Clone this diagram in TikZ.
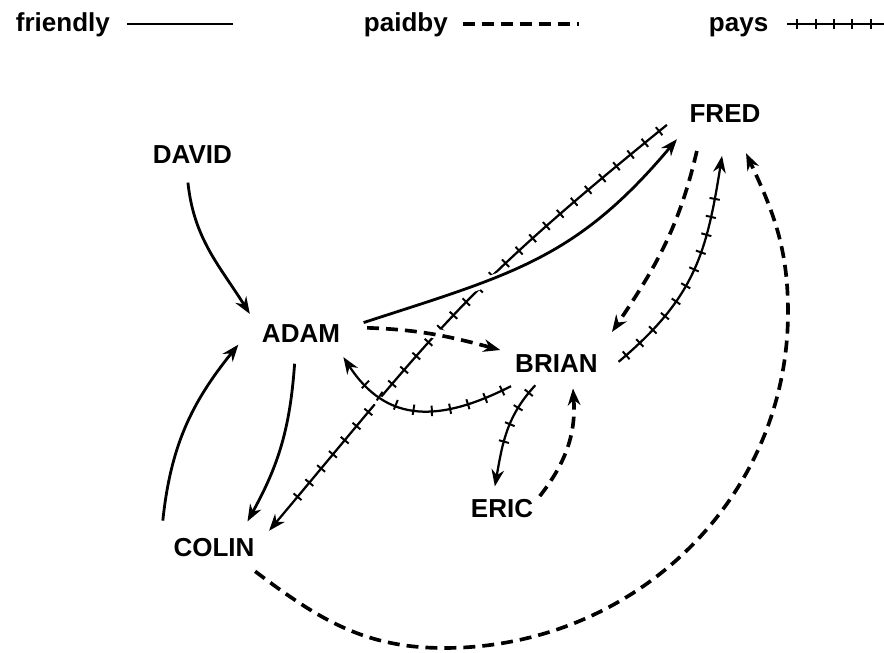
\documentclass[tikz,border=0pt]{standalone}
\usepackage{fontspec}
\setmainfont{Liberation Sans}
\usetikzlibrary{arrows.meta,shapes.geometric,decorations.markings}

\tikzset{
  who/.style={ellipse,inner sep=0pt,font=\fontsize{18.5}{20}\selectfont\bfseries},
  key/.style={font=\fontsize{18.5}{20}\selectfont\bfseries},
  friendly/.style={line width=2pt,-{Stealth[length=12pt,width=9pt]}},
  paidby/.style={line width=2.6pt,dash pattern=on 8.5pt off 5pt,-{Stealth[length=12pt,width=9pt]}},
  pays/.style={line width=1.6pt,-{Stealth[length=12pt,width=9pt]},postaction={decorate},
    decoration={markings,mark=between positions 0.25cm and -0.7cm step 0.46cm with {\draw[-,solid,line width=1.4pt] (0,-0.13)--(0,0.13);}}},
  bridge/.style={preaction={draw=white,solid,-,line width=7pt,shorten <=1.2cm,shorten >=0.6cm}}
}

\begin{document}
\begin{tikzpicture}
\useasboundingbox (0,0) rectangle (22.1,16.3);

% key
\node[key,anchor=base west] (kfriendly) at (0.275,15.5) {friendly};
\node[key,anchor=base west] (kpaidby) at (8.975,15.5) {paidby};
\node[key,anchor=base west] (kpays) at (17.6,15.5) {pays};
\draw[friendly,-] ([xshift=0.3cm,yshift=0.2cm]kfriendly.base east) -- +(2.65,0);
\draw[paidby,-] ([xshift=0.25cm,yshift=0.2cm]kpaidby.base east) -- +(2.9,0);
\draw[pays,-] ([xshift=0.35cm,yshift=0.2cm]kpays.base east) -- +(2.8,0);

% people
\node[who,minimum width=3.2cm,minimum height=1.4cm] (david) at (4.81,12.44) {DAVID};
\node[who,minimum width=3cm,minimum height=2.1cm] (fred) at (18.125,13.46) {FRED};
\node[who,minimum width=3.35cm,minimum height=1.5cm] (adam) at (7.525,7.96) {ADAM};
\node[who,minimum width=3.1cm,minimum height=1.6cm] (brian) at (13.91,7.2) {BRIAN};
\node[who,minimum width=2.25cm,minimum height=1.1cm] (eric) at (12.55,3.59) {ERIC};
\node[who,minimum width=3.3cm,minimum height=1.5cm] (colin) at (5.35,2.61) {COLIN};
\coordinate (low) at (11.1,0.1);
\coordinate (far) at (19.7,8.5);

% relations
\draw[pays] (fred.191) to[out=-141,in=50,looseness=1.2] (colin.17);
\draw[friendly] (david.-99) to[out=-84,in=122] (adam.159);
\draw[friendly,bridge] (adam.10) to[out=18,in=-130,looseness=1.1] (fred.-152);
\draw[paidby,bridge] (adam.5) to[out=-2,in=165] (brian.166);
\draw[pays,bridge] (brian.206) to[out=207,in=-57,looseness=1.2] (adam.-29);
\draw[friendly] (adam.-102) to[out=-94,in=61] (colin.38);
\draw[friendly] ([shift={(-0.2,0.1)}]colin.152) to[out=84,in=-129] (adam.190);
\draw[paidby] (fred.-127) to[out=-103,in=56] ([shift={(0.35,0.2)}]brian.30);
\draw[pays] (brian.2) to[out=40,in=-99,looseness=1.1] (fred.-94);
\draw[pays] ([shift={(0.17,0.19)}]brian.-134) to[out=-133,in=80] (eric.108);
\draw[paidby] (eric.18) to[out=52,in=-86] ([shift={(-0.1,0.15)}]brian.-56);
\draw[paidby] (colin.-30) to[out=-37,in=180] (low) to[out=0,in=-90] (far) to[out=90,in=-65] (fred.-62);

\end{tikzpicture}
\end{document}
